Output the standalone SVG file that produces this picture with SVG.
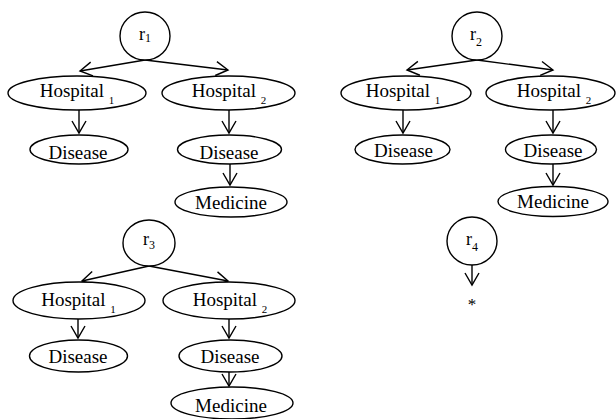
<svg xmlns="http://www.w3.org/2000/svg" width="616" height="419" viewBox="0 0 616 419">
  <style>
    .node { fill: #fff; stroke: #000; stroke-width: 1.4; }
    .lbl { font-family: "Liberation Serif", "Times New Roman", serif; font-size: 19px; fill: #000; text-anchor: middle; }
    .sub { font-size: 11px; }
    .rlbl { font-family: "Liberation Serif", "Times New Roman", serif; font-size: 18px; fill: #000; text-anchor: middle; }
    .rsub { font-size: 12px; }
    .edge { fill: none; stroke: #000; stroke-width: 1.4; marker-end: url(#vhead); }
  </style>
  <defs>
    <marker id="vhead" viewBox="0 0 12 14" refX="12" refY="7" markerWidth="12" markerHeight="14" markerUnits="userSpaceOnUse" orient="auto" overflow="visible">
      <path d="M0,0 L12,7 L0,14" fill="none" stroke="#000" stroke-width="1.4"/>
    </marker>
  </defs>
  <rect width="616" height="419" fill="#fff"/>

  <!-- connectors -->
  <g id="edges">
    <!-- tree r1 -->
    <line class="edge" x1="145" y1="60" x2="80" y2="71"/>
    <line class="edge" x1="145" y1="60" x2="228" y2="70"/>
    <line class="edge" x1="79" y1="110" x2="79" y2="133"/>
    <line class="edge" x1="229" y1="110" x2="229" y2="133"/>
    <line class="edge" x1="230" y1="164" x2="230" y2="185"/>
    <!-- tree r2 -->
    <line class="edge" x1="477" y1="60" x2="407" y2="70"/>
    <line class="edge" x1="477" y1="60" x2="553" y2="70"/>
    <line class="edge" x1="403" y1="110" x2="403" y2="133"/>
    <line class="edge" x1="553" y1="110" x2="553" y2="133"/>
    <line class="edge" x1="553" y1="164" x2="553" y2="185"/>
    <!-- tree r3 -->
    <line class="edge" x1="149" y1="266" x2="82" y2="281"/>
    <line class="edge" x1="149" y1="266" x2="228" y2="281"/>
    <line class="edge" x1="78" y1="319" x2="78" y2="338"/>
    <line class="edge" x1="229" y1="319" x2="229" y2="338"/>
    <line class="edge" x1="229" y1="372" x2="229" y2="386"/>
    <!-- tree r4 -->
    <line class="edge" x1="472" y1="265" x2="472" y2="285"/>
  </g>

  <!-- tree r1 -->
  <g id="r1">
    <ellipse class="node" cx="145" cy="36" rx="25" ry="24"/>
    <text class="rlbl" x="145" y="40">r<tspan class="rsub" dy="2">1</tspan></text>
  </g>
  <g id="t1-hospital1">
    <ellipse class="node" cx="77" cy="93" rx="69" ry="17"/>
    <text class="lbl" x="77" y="97">Hospital <tspan class="sub" dy="6.5">1</tspan></text>
  </g>
  <g id="t1-hospital2">
    <ellipse class="node" cx="228.5" cy="93" rx="66.5" ry="17"/>
    <text class="lbl" x="229" y="97">Hospital <tspan class="sub" dy="6.5">2</tspan></text>
  </g>
  <g id="t1-disease1">
    <ellipse class="node" cx="79" cy="149.5" rx="49" ry="14.5"/>
    <text class="lbl" x="78" y="159">Disease</text>
  </g>
  <g id="t1-disease2">
    <ellipse class="node" cx="229.5" cy="149.5" rx="52" ry="14.5"/>
    <text class="lbl" x="229" y="159">Disease</text>
  </g>
  <g id="t1-medicine">
    <ellipse class="node" cx="231" cy="202" rx="56" ry="15"/>
    <text class="lbl" x="231" y="209">Medicine</text>
  </g>

  <!-- tree r2 -->
  <g id="r2">
    <ellipse class="node" cx="477" cy="36" rx="25" ry="24"/>
    <text class="rlbl" x="476" y="40">r<tspan class="rsub" dy="6">2</tspan></text>
  </g>
  <g id="t2-hospital1">
    <ellipse class="node" cx="406" cy="93" rx="65" ry="17"/>
    <text class="lbl" x="403" y="97">Hospital <tspan class="sub" dy="6.5">1</tspan></text>
  </g>
  <g id="t2-hospital2">
    <ellipse class="node" cx="550.5" cy="93" rx="64.5" ry="17"/>
    <text class="lbl" x="554" y="97">Hospital <tspan class="sub" dy="6.5">2</tspan></text>
  </g>
  <g id="t2-disease1">
    <ellipse class="node" cx="402.5" cy="149.5" rx="47.5" ry="14.5"/>
    <text class="lbl" x="403.5" y="157">Disease</text>
  </g>
  <g id="t2-disease2">
    <ellipse class="node" cx="551" cy="149.5" rx="45.5" ry="14.5"/>
    <text class="lbl" x="553" y="157">Disease</text>
  </g>
  <g id="t2-medicine">
    <ellipse class="node" cx="553" cy="201.5" rx="55" ry="15"/>
    <text class="lbl" x="553" y="208">Medicine</text>
  </g>

  <!-- tree r3 -->
  <g id="r3">
    <ellipse class="node" cx="149" cy="243" rx="26" ry="23"/>
    <text class="rlbl" x="149" y="245">r<tspan class="rsub" dy="4">3</tspan></text>
  </g>
  <g id="t3-hospital1">
    <ellipse class="node" cx="79" cy="300.5" rx="66" ry="18.5"/>
    <text class="lbl" x="78.5" y="306">Hospital <tspan class="sub" dy="6.5">1</tspan></text>
  </g>
  <g id="t3-hospital2">
    <ellipse class="node" cx="229" cy="300.5" rx="66" ry="18.5"/>
    <text class="lbl" x="230" y="306">Hospital <tspan class="sub" dy="6.5">2</tspan></text>
  </g>
  <g id="t3-disease1">
    <ellipse class="node" cx="78.5" cy="356" rx="49" ry="16"/>
    <text class="lbl" x="78" y="363">Disease</text>
  </g>
  <g id="t3-disease2">
    <ellipse class="node" cx="230.5" cy="356" rx="51.5" ry="16"/>
    <text class="lbl" x="230" y="363">Disease</text>
  </g>
  <g id="t3-medicine">
    <ellipse class="node" cx="232" cy="403" rx="61" ry="16"/>
    <text class="lbl" x="231" y="411.5">Medicine</text>
  </g>

  <!-- tree r4 -->
  <g id="r4">
    <ellipse class="node" cx="472" cy="241" rx="25" ry="24"/>
    <text class="rlbl" x="472" y="245">r<tspan class="rsub" dy="6">4</tspan></text>
  </g>
  <g id="t4-any">
    <text class="lbl" x="472" y="310" style="font-size:17px">*</text>
  </g>
</svg>
